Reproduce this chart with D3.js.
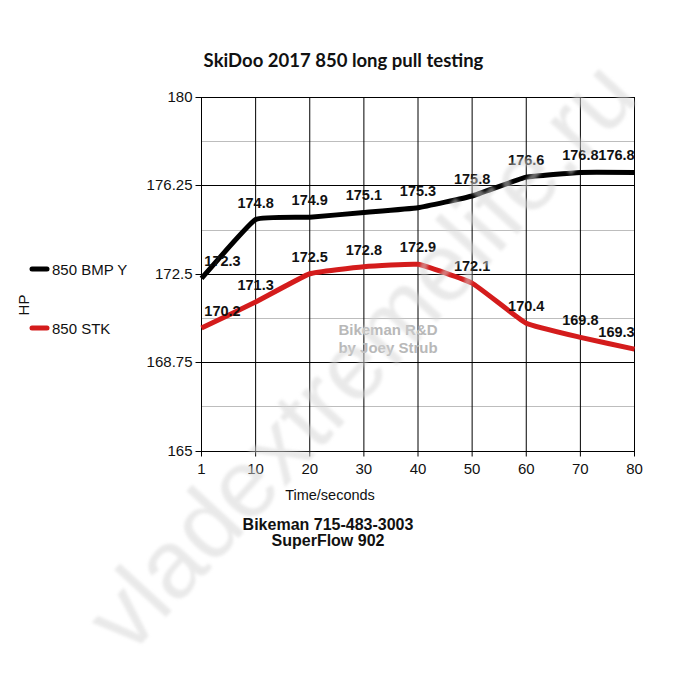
<!DOCTYPE html>
<html><head><meta charset="utf-8">
<script src="https://cdn.jsdelivr.net/npm/d3@7"></script>
<style>body{margin:0;background:#fff}svg{display:block}</style>
</head><body><div id="chart"></div>
<script>
const categories = ["1","10","20","30","40","50","60","70","80"];
const seriesNames = ["850 BMP Y","850 STK"];
const bmpValues = [172.3,174.8,174.9,175.1,175.3,175.8,176.6,176.8,176.8];
const stkValues = [170.2,171.3,172.5,172.8,172.9,172.1,170.4,169.8,169.3];
const yTicks = [165,168.75,172.5,176.25,180];
const yMinor = [166.875,170.625,174.375,178.125];
const colors = ["#000000","#d41c1c"];

(function(){
const W=700,H=700;
const svg=d3.select("#chart").append("svg").attr("width",W).attr("height",H);
const defs=svg.append("defs");
defs.append("filter").attr("id","blur").attr("x","-10%").attr("y","-10%").attr("width","120%").attr("height","120%")
 .append("feGaussianBlur").attr("stdDeviation",1.6);
const pLeft=201.5,pRight=634.5,pTop=97,pBottom=450.5;
const x=d3.scalePoint().domain(categories).range([pLeft,pRight]);
const y=d3.scaleLinear().domain([165,180]).range([pBottom,pTop]);
const font="Liberation Sans, Arial, sans-serif";

svg.append("g").selectAll("line").data(yMinor).join("line")
 .attr("x1",pLeft).attr("x2",pRight).attr("y1",d=>Math.round(y(d))+0.5).attr("y2",d=>Math.round(y(d))+0.5)
 .attr("stroke","#bdbdbd").attr("stroke-width",1);
svg.append("g").selectAll("line").data(yTicks).join("line")
 .attr("x1",pLeft-6).attr("x2",pRight).attr("y1",d=>Math.round(y(d))+0.5).attr("y2",d=>Math.round(y(d))+0.5)
 .attr("stroke","#000").attr("stroke-width",1);
svg.append("g").selectAll("line").data(categories).join("line")
 .attr("x1",d=>x(d)).attr("x2",d=>x(d)).attr("y1",pTop).attr("y2",pBottom+6)
 .attr("stroke","#000").attr("stroke-width",1);

svg.append("g").selectAll("text").data(yTicks).join("text")
 .attr("x",pLeft-9).attr("y",d=>y(d)+5).attr("text-anchor","end")
 .attr("font-family",font).attr("font-size",15).attr("fill","#111")
 .text(d=>d);
svg.append("g").selectAll("text").data(categories).join("text")
 .attr("x",d=>x(d)).attr("y",pBottom+23).attr("text-anchor","middle")
 .attr("font-family",font).attr("font-size",15).attr("fill","#111")
 .text(d=>d);

svg.append("text").attr("x",330).attr("y",500).attr("text-anchor","middle")
 .attr("font-family",font).attr("font-size",14.5).attr("fill","#111").text("Time/seconds");
svg.append("text").attr("transform","translate(29,305) rotate(-90)").attr("text-anchor","middle")
 .attr("font-family",font).attr("font-size",15).attr("fill","#111").text("HP");

svg.append("text").attr("x",343.5).attr("y",67).attr("text-anchor","middle")
 .attr("font-family","Lato, sans-serif").attr("font-weight","bold").attr("font-size",18.5).attr("fill","#111")
 .text("SkiDoo 2017 850 long pull testing");

svg.append("text").attr("x",328).attr("y",530).attr("text-anchor","middle")
 .attr("font-family",font).attr("font-weight","bold").attr("font-size",16).attr("fill","#111")
 .text("Bikeman 715-483-3003");
svg.append("text").attr("x",328).attr("y",546).attr("text-anchor","middle")
 .attr("font-family",font).attr("font-weight","bold").attr("font-size",16).attr("fill","#111")
 .text("SuperFlow 902");

svg.append("text").attr("x",388).attr("y",335).attr("text-anchor","middle")
 .attr("font-family",font).attr("font-weight","bold").attr("font-size",15).attr("fill","#b8b8b8")
 .text("Bikeman R&D");
svg.append("text").attr("x",388).attr("y",353).attr("text-anchor","middle")
 .attr("font-family",font).attr("font-weight","bold").attr("font-size",15).attr("fill","#b8b8b8")
 .text("by Joey Strub");

const line=d3.line().x((d,i)=>x(categories[i])).y(d=>y(d)).curve(d3.curveCardinal.tension(0.68));
[bmpValues,stkValues].forEach((vals,k)=>{
 svg.append("path").attr("d",line(vals)).attr("fill","none").attr("stroke",colors[k])
  .attr("stroke-width",5).attr("stroke-linejoin","round");
});

[bmpValues,stkValues].forEach((vals,k)=>{
 svg.append("g").selectAll("text").data(vals).join("text")
  .attr("x",(d,i)=>{const cx=x(categories[i]); if(i===0) return cx+21; if(i===vals.length-1) return cx-18; return cx;})
  .attr("y",d=>y(d)-12).attr("text-anchor","middle")
  .attr("font-family",font).attr("font-weight","bold").attr("font-size",14.5).attr("fill","#111")
  .text(d=>d.toFixed(1));
});

const lg=svg.append("g");
seriesNames.forEach((n,k)=>{
 const ly=[269,328][k];
 lg.append("line").attr("x1",32).attr("x2",47).attr("y1",ly).attr("y2",ly)
  .attr("stroke",colors[k]).attr("stroke-width",5).attr("stroke-linecap","round");
 lg.append("text").attr("x",52).attr("y",ly+5.5).attr("font-family",font).attr("font-size",15).attr("fill","#111").text(n);
});

svg.append("text").attr("transform","translate(385,378) rotate(-47.5)").attr("text-anchor","middle")
 .attr("font-family",font).attr("font-size",96).attr("fill","#d4d4d4").attr("opacity",0.5)
 .attr("filter","url(#blur)")
 .text("vladextremelife.ru");
})();
</script></body></html>
